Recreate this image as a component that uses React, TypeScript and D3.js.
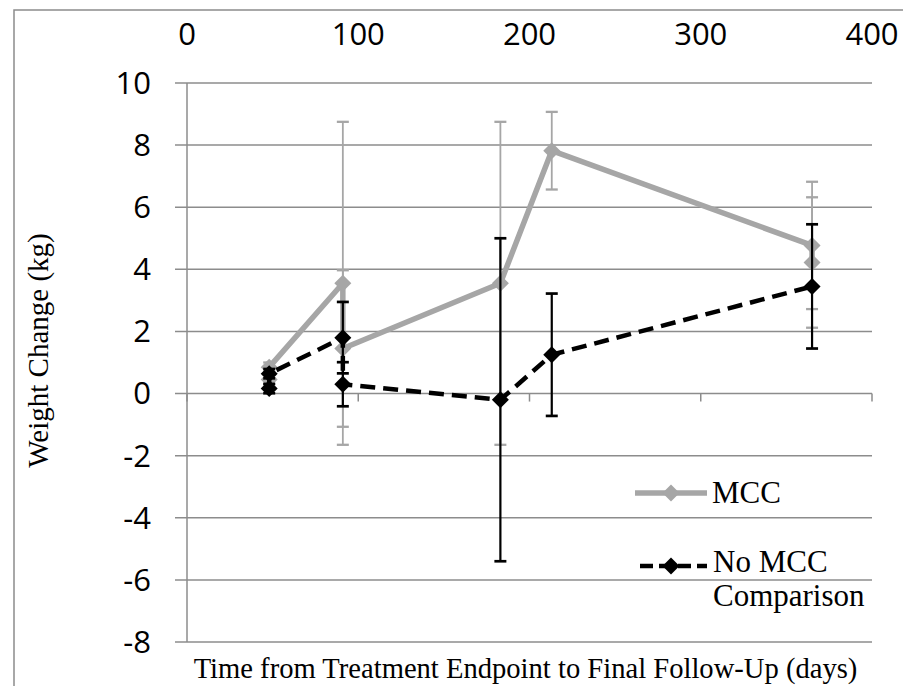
import React, { useRef, useEffect } from 'react';
import * as d3 from 'd3';

// days after treatment endpoint, mean weight change (kg) and error bar half-widths
const mccDays = [48, 48, 91, 91, 183, 213, 365, 365];
const mccMean = [0.45, 0.85, 3.55, 1.45, 3.55, 7.82, 4.77, 4.22];
const mccErr = [0.15, 0.15, 5.2, 2.52, 5.2, 1.25, 2.05, 2.1];

const noMccDays = [48, 48, 91, 91, 183, 213, 365];
const noMccMean = [0.16, 0.64, 1.8, 0.3, -0.2, 1.25, 3.45];
const noMccErr = [0.15, 0.15, 1.15, 0.71, 5.2, 1.97, 2.0];

const xTicks = [0, 100, 200, 300, 400];
const yTicks = [-8, -6, -4, -2, 0, 2, 4, 6, 8, 10];

const W = 903;
const H = 686;

const App = () => {
  const svgRef = useRef<SVGSVGElement>(null);

  useEffect(() => {
    const svg = d3.select(svgRef.current);
    svg.selectAll('*').remove();

    const x = d3.scaleLinear().domain([0, 400]).range([187, 872]);
    const y = d3.scaleLinear().domain([-8, 10]).range([642, 83]);

    const gridColor = '#8c8c8c';
    const tickFont = "'Open Sans', 'Noto Sans', sans-serif";
    const serif = "'Liberation Serif', 'Times New Roman', serif";

    svg.append('rect').attr('width', W).attr('height', H).attr('fill', '#fff');

    // chart border
    svg.append('rect')
      .attr('x', 14).attr('y', 10)
      .attr('width', W + 20).attr('height', H + 20)
      .attr('fill', 'none').attr('stroke', gridColor).attr('stroke-width', 1.5);

    // gridlines (with outside tick stubs)
    svg.selectAll('.grid')
      .data(yTicks)
      .enter().append('line')
      .attr('x1', 175).attr('x2', x(400))
      .attr('y1', d => y(d)).attr('y2', d => y(d))
      .attr('stroke', gridColor).attr('stroke-width', 1.5);

    // y axis line
    svg.append('line')
      .attr('x1', x(0)).attr('x2', x(0))
      .attr('y1', y(10)).attr('y2', y(-8))
      .attr('stroke', gridColor).attr('stroke-width', 1.5);

    // x axis ticks at y = 0
    svg.selectAll('.xtick')
      .data(xTicks)
      .enter().append('line')
      .attr('x1', d => x(d)).attr('x2', d => x(d))
      .attr('y1', y(0)).attr('y2', y(0) + 8)
      .attr('stroke', gridColor).attr('stroke-width', 1.5);

    // tick labels
    svg.selectAll('.ylab')
      .data(yTicks)
      .enter().append('text')
      .attr('x', 151).attr('y', d => y(d))
      .attr('dy', '0.35em')
      .attr('text-anchor', 'end')
      .style('font-family', tickFont).style('font-size', '31px').style('fill', '#000')
      .text(d => d);

    svg.selectAll('.xlab')
      .data(xTicks)
      .enter().append('text')
      .attr('x', d => x(d)).attr('y', 34)
      .attr('dy', '0.35em')
      .attr('text-anchor', 'middle')
      .style('font-family', tickFont).style('font-size', '31px').style('fill', '#000')
      .text(d => d);

    // axis titles
    svg.append('text')
      .attr('transform', `translate(48,${(y(10) + y(-8)) / 2 - 12}) rotate(-90)`)
      .attr('text-anchor', 'middle')
      .style('font-family', serif).style('font-size', '29px')
      .text('Weight Change (kg)');

    svg.append('text')
      .attr('x', (x(0) + x(400)) / 2 - 4).attr('y', 678)
      .attr('text-anchor', 'middle')
      .style('font-family', serif).style('font-size', '28.6px')
      .text('Time from Treatment Endpoint to Final Follow-Up (days)');

    const diamond = (cx: number, cy: number, r: number) =>
      `M${cx},${cy - r}L${cx + r},${cy}L${cx},${cy + r}L${cx - r},${cy}Z`;

    const drawSeries = (days: number[], mean: number[], err: number[], color: string,
      lineW: number, dash: string | null, errW: number) => {
      const g = svg.append('g');
      const idx = d3.range(days.length);

      g.selectAll('.eb').data(idx).enter().append('line')
        .attr('x1', i => x(days[i])).attr('x2', i => x(days[i]))
        .attr('y1', i => y(mean[i] + err[i])).attr('y2', i => y(mean[i] - err[i]))
        .attr('stroke', color).attr('stroke-width', errW);
      [1, -1].forEach(s => {
        g.selectAll('.cap' + s).data(idx).enter().append('line')
          .attr('x1', i => x(days[i]) - 6).attr('x2', i => x(days[i]) + 6)
          .attr('y1', i => y(mean[i] + s * err[i])).attr('y2', i => y(mean[i] + s * err[i]))
          .attr('stroke', color).attr('stroke-width', errW + 0.5);
      });

      const line = d3.line<number>().x(i => x(days[i])).y(i => y(mean[i]));
      g.append('path')
        .attr('d', line(idx))
        .attr('fill', 'none').attr('stroke', color).attr('stroke-width', lineW)
        .attr('stroke-linejoin', 'round')
        .attr('stroke-dasharray', dash);

      g.selectAll('.pt').data(idx).enter().append('path')
        .attr('d', i => diamond(x(days[i]), y(mean[i]), 8.5))
        .attr('fill', color);
    };

    drawSeries(mccDays, mccMean, mccErr, '#a6a6a6', 5.5, null, 1.8);
    drawSeries(noMccDays, noMccMean, noMccErr, '#000', 4.5, '15,8', 2.2);

    // legend
    const leg = svg.append('g');
    leg.append('line').attr('x1', 635).attr('x2', 707).attr('y1', 493).attr('y2', 493)
      .attr('stroke', '#a6a6a6').attr('stroke-width', 5.5);
    leg.append('path').attr('d', diamond(671, 493, 8.5)).attr('fill', '#a6a6a6');
    leg.append('text').attr('x', 712).attr('y', 503)
      .style('font-family', serif).style('font-size', '31px').text('MCC');

    leg.append('line').attr('x1', 640).attr('x2', 707).attr('y1', 566).attr('y2', 566)
      .attr('stroke', '#000').attr('stroke-width', 4.5).attr('stroke-dasharray', '13,6');
    leg.append('path').attr('d', diamond(671, 566, 8.5)).attr('fill', '#000');
    leg.append('text').attr('x', 713).attr('y', 572)
      .style('font-family', serif).style('font-size', '31px').text('No MCC');
    leg.append('text').attr('x', 713).attr('y', 606)
      .style('font-family', serif).style('font-size', '31px').text('Comparison');
  }, []);

  return (
    <svg ref={svgRef} width={W} height={H}
      style={{ position: 'absolute', left: 0, top: 0, display: 'block' }} />
  );
};

export default App;
